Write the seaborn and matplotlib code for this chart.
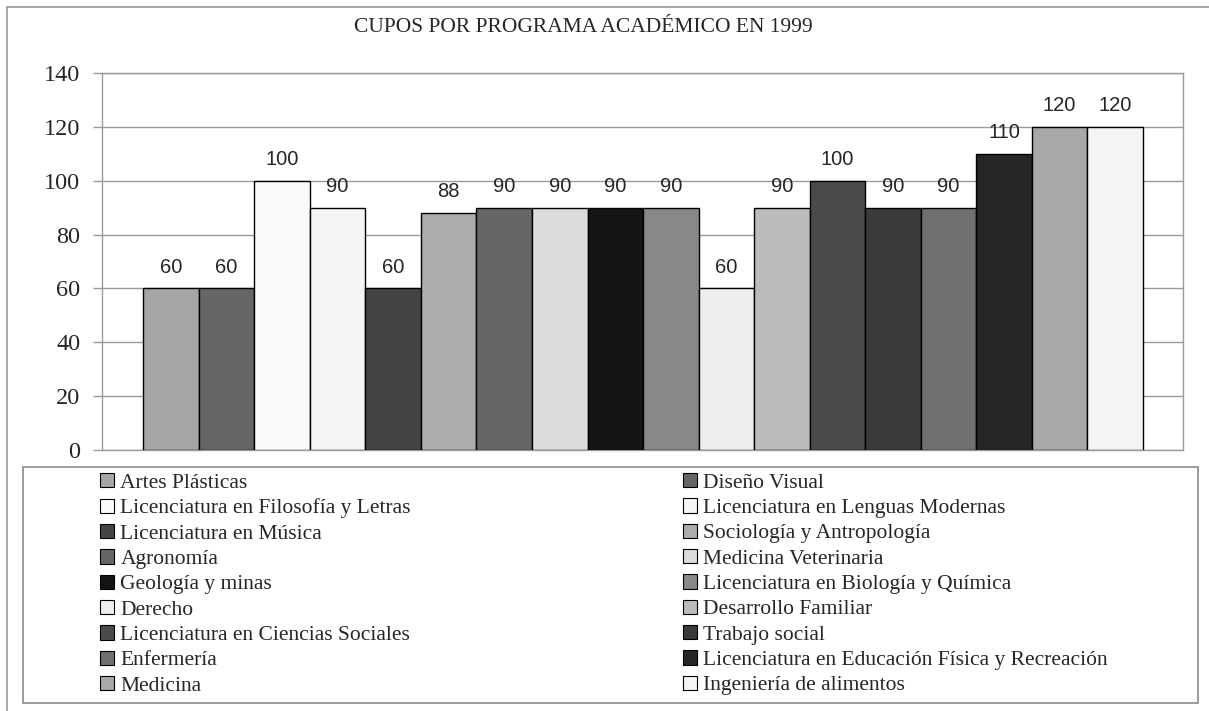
import matplotlib
matplotlib.use("Agg")
import matplotlib.pyplot as plt
import seaborn as sns
from matplotlib.patches import Patch, Rectangle
from matplotlib.lines import Line2D

programas = [
    "Artes Plásticas", "Diseño Visual",
    "Licenciatura en Filosofía y Letras", "Licenciatura en Lenguas Modernas",
    "Licenciatura en Música", "Sociología y Antropología",
    "Agronomía", "Medicina Veterinaria",
    "Geología y minas", "Licenciatura en Biología y Química",
    "Derecho", "Desarrollo Familiar",
    "Licenciatura en Ciencias Sociales", "Trabajo social",
    "Enfermería", "Licenciatura en Educación Física y Recreación",
    "Medicina", "Ingeniería de alimentos",
]
cupos = [60, 60, 100, 90, 60, 88, 90, 90, 90, 90, 60, 90, 100, 90, 90, 110, 120, 120]
colores = [
    "#a6a6a6", "#666666", "#fafafa", "#f5f5f5", "#444444", "#acacac",
    "#666666", "#dcdcdc", "#141414", "#888888", "#eeeeee", "#bbbbbb",
    "#4a4a4a", "#3a3a3a", "#707070", "#262626", "#a8a8a8", "#f4f4f4",
]
titulo = "CUPOS POR PROGRAMA ACADÉMICO EN 1999"
yticks = [0, 20, 40, 60, 80, 100, 120, 140]

sns.set_theme(style="white")
plt.rcParams["font.family"] = ["Liberation Serif", "DejaVu Serif"]

W, H = 1209, 711
fig = plt.figure(figsize=(W / 100, H / 100), dpi=100)


def fx(px):
    return px / W


def fy(py):
    return 1 - py / H


ax = fig.add_axes([fx(102), fy(450), fx(1183) - fx(102), fy(73) - fy(450)])

sns.barplot(x=programas, y=cupos, hue=programas, palette=colores, width=1.0,
            edgecolor="black", linewidth=1.0, legend=False, ax=ax, zorder=3)

ax.set_xlim(-1.24, 18.22)
ax.set_ylim(0, 140)
ax.set_yticks(yticks)
ax.set_xticks([])
ax.set_xlabel("")
ax.set_ylabel("")
ax.yaxis.grid(True, color="#9a9a9a", linewidth=1.0, zorder=0)
ax.set_axisbelow(True)
ax.tick_params(axis="y", length=6.5, width=1, color="#9a9a9a", pad=9,
               labelsize=17.5, left=True)
for s in ax.spines.values():
    s.set_color("#9a9a9a")
    s.set_linewidth(1.0)

# etiquetas de valor sobre cada barra
for bar in ax.patches:
    h = bar.get_height()
    if h > 0:
        ax.annotate(f"{h:.0f}", (bar.get_x() + bar.get_width() / 2, h),
                    xytext=(0, 8.5), textcoords="offset points",
                    ha="center", va="bottom", fontsize=14.5,
                    family=["Liberation Sans", "DejaVu Sans"])

fig.text(fx(583), fy(27), titulo, ha="center", va="center", fontsize=15.5)

# caja de la leyenda
fig.patches.append(Rectangle((fx(23), fy(703)), fx(1198) - fx(23), fy(467) - fy(703),
                             transform=fig.transFigure, fill=False,
                             edgecolor="#8a8a8a", linewidth=1.2))
# marco exterior
fig.lines.append(Line2D([fx(7), 1], [fy(7), fy(7)], transform=fig.transFigure,
                        color="#9a9a9a", linewidth=1.2))
fig.lines.append(Line2D([fx(7), fx(7)], [fy(7), 0], transform=fig.transFigure,
                        color="#9a9a9a", linewidth=1.2))

handles = [Patch(facecolor=c, edgecolor="black", linewidth=0.8) for c in colores]
for col, x0 in enumerate([100, 683]):
    idx = list(range(col, len(programas), 2))
    fig.legend([handles[i] for i in idx], [programas[i] for i in idx],
               loc="upper left", bbox_to_anchor=(fx(x0), fy(473)),
               frameon=False, fontsize=15.5, handlelength=0.65, handleheight=0.65,
               handletextpad=0.3, labelspacing=0.26, borderpad=0,
               borderaxespad=0)

fig.savefig("out.png", dpi=100)
